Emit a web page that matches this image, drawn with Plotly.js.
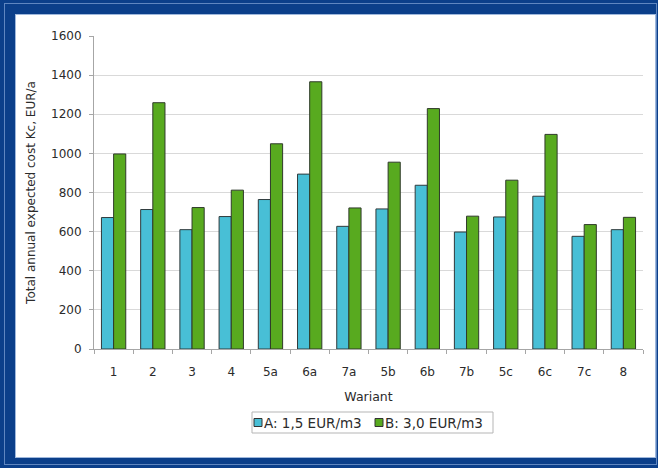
<!DOCTYPE html>
<html>
<head>
<meta charset="utf-8">
<script src="https://cdn.plot.ly/plotly-3.0.1.min.js"></script>
<style>
html,body{margin:0;padding:0;width:658px;height:468px;overflow:hidden;background:#0b3f8a;}
#edge{position:absolute;left:4px;top:3px;width:653px;height:462px;border:1px solid #5f86c0;box-sizing:border-box;}
#inner{position:absolute;left:15px;top:14px;width:641px;height:444px;background:#fff;border:1px solid #9fb8dc;box-sizing:border-box;}
#chart{position:absolute;left:0;top:0;width:658px;height:468px;}
</style>
</head>
<body>
<div id="edge"></div>
<div id="inner"></div>
<div id="chart"></div>
<script>
const categories = ["1","2","3","4","5a","6a","7a","5b","6b","7b","5c","6c","7c","8"];
const seriesA = [672, 713, 610, 677, 764, 894, 627, 716, 837, 598, 675, 781, 576, 610];
const seriesB = [997, 1259, 723, 812, 1049, 1366, 721, 955, 1229, 679, 863, 1097, 636, 673];
const nameA = "A: 1,5 EUR/m3";
const nameB = "B: 3,0 EUR/m3";
const yTicks = [0,200,400,600,800,1000,1200,1400,1600];

const colA = "#48bfd6", colB = "#58aa1f";
const fam = "DejaVu Sans, Verdana, sans-serif";
const txt = "#2b2b2b";
const font = {family: fam, size: 12, color: txt};

// plot-area geometry (pixels) used to place the hand-made legend in paper units
const L = 94, R = 15, T = 36, B = 119, W = 658, H = 468;
const pw = W - L - R, ph = H - T - B;
const px = v => (v - L) / pw;
const py = v => (H - B - v) / ph;

const traces = [
  {type:"bar", name:nameA, x:categories, y:seriesA, showlegend:false,
   marker:{color:colA, line:{color:"#2f3a3c", width:1}}},
  {type:"bar", name:nameB, x:categories, y:seriesB, showlegend:false,
   marker:{color:colB, line:{color:"#2f3a2a", width:1}}}
];

const shapes = [
  {type:"rect", xref:"paper", yref:"paper", x0:px(252), x1:px(493), y0:py(412), y1:py(433),
   line:{color:"#b5b5b5", width:1}, fillcolor:"#fff", layer:"above"},
  {type:"rect", xref:"paper", yref:"paper", x0:px(254), x1:px(262), y0:py(418.5), y1:py(426.5),
   line:{color:"#333", width:1}, fillcolor:colA, layer:"above"},
  {type:"rect", xref:"paper", yref:"paper", x0:px(375), x1:px(383), y0:py(418.5), y1:py(426.5),
   line:{color:"#333", width:1}, fillcolor:colB, layer:"above"}
];
const annotations = [
  {xref:"paper", yref:"paper", x:px(262), y:py(422.5), xanchor:"left", yanchor:"middle",
   text:nameA, showarrow:false, font:{family:fam, size:13.5, color:txt}},
  {xref:"paper", yref:"paper", x:px(383), y:py(422.5), xanchor:"left", yanchor:"middle",
   text:nameB, showarrow:false, font:{family:fam, size:13.5, color:txt}}
];

const layout = {
  width:W, height:H,
  margin:{l:L, r:R, t:T, b:B, pad:0},
  paper_bgcolor:"rgba(0,0,0,0)",
  plot_bgcolor:"rgba(0,0,0,0)",
  font:font,
  barmode:"group",
  bargap:0.38,
  bargroupgap:0,
  showlegend:false,
  shapes:shapes,
  annotations:annotations,
  xaxis:{type:"category", showline:true, linecolor:"#a6a6a6", linewidth:1,
         ticks:"outside", tickson:"boundaries", ticklen:4, tickcolor:"#a6a6a6",
         ticklabelstandoff:12, automargin:false,
         showgrid:false, zeroline:false,
         title:{text:"Wariant", font:{family:fam, size:12.5, color:txt}, standoff:13}},
  yaxis:{range:[0,1600], tickvals:yTicks, showline:true, linecolor:"#a6a6a6", linewidth:1,
         ticks:"outside", ticklen:4, tickcolor:"#a6a6a6", ticklabelstandoff:5, automargin:false,
         gridcolor:"#d9d9d9", gridwidth:1, zeroline:false,
         title:{text:"Total annual expected cost Kc, EUR/a", font:{family:fam, size:12, color:txt}, standoff:12}}
};
Plotly.newPlot("chart", traces, layout, {displayModeBar:false, staticPlot:true});
</script>
</body>
</html>
